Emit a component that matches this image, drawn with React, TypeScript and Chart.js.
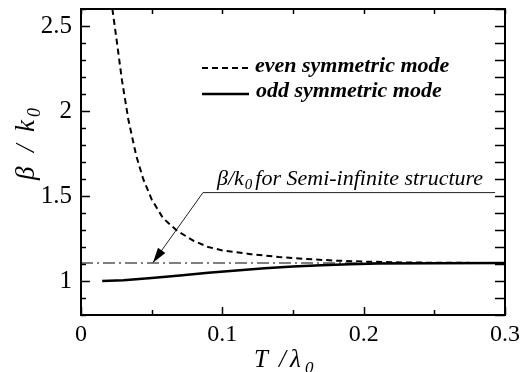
import { useEffect, useRef } from 'react';
import { Chart, registerables } from 'chart.js';

Chart.register(...registerables);

// ---- data ----
const evenModeT = [0.0222, 0.025, 0.029, 0.0335, 0.039, 0.044, 0.05, 0.058, 0.068, 0.08, 0.09, 0.1, 0.12, 0.14, 0.16, 0.18, 0.2, 0.23, 0.26, 0.3];
const evenModeBeta = [2.6, 2.43, 2.18, 1.95, 1.74, 1.6, 1.48, 1.37, 1.295, 1.235, 1.2, 1.18, 1.158, 1.141, 1.129, 1.12, 1.114, 1.109, 1.107, 1.106];
const oddModeT = [0.015, 0.03, 0.05, 0.07, 0.09, 0.11, 0.13, 0.15, 0.17, 0.19, 0.21, 0.25, 0.3];
const oddModeBeta = [1.0, 1.005, 1.018, 1.033, 1.048, 1.062, 1.075, 1.085, 1.093, 1.099, 1.103, 1.105, 1.106];
const semiInfiniteBeta = 1.106;
const xRange = [0, 0.3];
const yRange = [0.8, 2.6];
const xTickLabels = ['0', '0.1', '0.2', '0.3'];
const yTickLabels = ['1', '1.5', '2', '2.5'];
const seriesLabels = ['even symmetric mode', 'odd symmetric mode'];
const annotationLabel = ['β/k', '0', 'for Semi-infinite structure'];
const xTitleParts = ['T', '/', 'λ', '0'];
const yTitleParts = ['β', '/', 'k', '0'];
// annotation pointer (data coordinates): end of leader, elbow, arrow tip
const pointerT = [0.293, 0.0863, 0.0509];
const pointerBeta = [1.52, 1.52, 1.108];

const SERIF = '"Liberation Serif", "Times New Roman", serif';

const isLabeled = (labels: string[], v: number) =>
  labels.find((l) => Math.abs(parseFloat(l) - v) < 1e-6);

function drawSubText(ctx: CanvasRenderingContext2D, x: number, y: number, main: string, sub: string, size: number, style: string) {
  ctx.font = `${style} ${size}px ${SERIF}`;
  ctx.fillText(main, x, y);
  const w = ctx.measureText(main).width;
  const subSize = Math.round(size * 0.68);
  ctx.font = `${style} ${subSize}px ${SERIF}`;
  ctx.fillText(sub, x + w + 1, y + size * 0.2);
  return w + 1 + ctx.measureText(sub).width;
}

// draw a title whose parts sit at given offsets along the baseline
function drawTitle(ctx: CanvasRenderingContext2D, parts: string[], offsets: number[], size: number) {
  ctx.font = `italic ${size}px ${SERIF}`;
  ctx.fillText(parts[0], offsets[0], 0);
  ctx.fillText(parts[1], offsets[1], 0);
  ctx.fillText(parts[2], offsets[2], 0);
  ctx.font = `italic ${Math.round(size * 0.68)}px ${SERIF}`;
  ctx.fillText(parts[3], offsets[3], size * 0.22);
}

const decorPlugin = {
  id: 'decor',
  afterDatasetsDraw(chart: any) {
    const ctx: CanvasRenderingContext2D = chart.ctx;
    const meta = chart.getDatasetMeta(3);
    const pts = meta.data;
    const p1 = pts[pts.length - 2];
    const p2 = pts[pts.length - 1];
    const ang = Math.atan2(p2.y - p1.y, p2.x - p1.x);
    ctx.save();
    ctx.translate(p2.x, p2.y);
    ctx.rotate(ang);
    ctx.beginPath();
    ctx.moveTo(0, 0);
    ctx.lineTo(-15, -4.5);
    ctx.lineTo(-15, 4.5);
    ctx.closePath();
    ctx.fillStyle = '#000';
    ctx.fill();
    ctx.restore();
  },
  afterDraw(chart: any) {
    const ctx: CanvasRenderingContext2D = chart.ctx;
    const a = chart.chartArea;
    const xs = chart.scales.x;
    const ys = chart.scales.y;
    ctx.save();
    // frame
    ctx.strokeStyle = '#000';
    ctx.lineWidth = 2;
    ctx.setLineDash([]);
    ctx.strokeRect(a.left, a.top, a.right - a.left, a.bottom - a.top);
    // ticks
    ctx.lineWidth = 1.5;
    ctx.beginPath();
    ys.ticks.forEach((t: any) => {
      const py = Math.round(ys.getPixelForValue(t.value)) + 0.5;
      const major = isLabeled(yTickLabels, t.value) !== undefined;
      ctx.moveTo(a.left, py);
      ctx.lineTo(a.left + (major ? 9 : 5), py);
      ctx.moveTo(a.right, py);
      ctx.lineTo(a.right - 10, py);
    });
    xs.ticks.forEach((t: any) => {
      const px = Math.round(xs.getPixelForValue(t.value)) + 0.5;
      const major = isLabeled(xTickLabels, t.value) !== undefined;
      ctx.moveTo(px, a.bottom);
      ctx.lineTo(px, a.bottom - (major ? 8 : 5));
      ctx.moveTo(px, a.top);
      ctx.lineTo(px, a.top + 5);
    });
    ctx.stroke();

    // legend
    const lx = a.left + 121;
    const ly1 = a.top + 59;
    const ly2 = a.top + 85;
    ctx.beginPath();
    ctx.lineWidth = 2;
    ctx.setLineDash([6, 4]);
    ctx.moveTo(lx, ly1);
    ctx.lineTo(lx + 47, ly1);
    ctx.stroke();
    ctx.beginPath();
    ctx.lineWidth = 2.5;
    ctx.setLineDash([]);
    ctx.moveTo(lx, ly2);
    ctx.lineTo(lx + 47, ly2);
    ctx.stroke();
    ctx.fillStyle = '#000';
    ctx.textBaseline = 'alphabetic';
    ctx.textAlign = 'left';
    ctx.font = `italic bold 22px ${SERIF}`;
    ctx.fillText(seriesLabels[0], lx + 53, ly1 + 3.5);
    ctx.fillText(seriesLabels[1], lx + 54, ly2 + 3);

    // annotation text
    const ax = a.left + 136;
    const ay = a.top + 176;
    const w = drawSubText(ctx, ax, ay, annotationLabel[0], annotationLabel[1], 22, 'italic');
    ctx.font = `italic 22px ${SERIF}`;
    ctx.fillText(annotationLabel[2], ax + w + 3, ay);

    // x title
    ctx.save();
    ctx.translate(a.left + 173, a.bottom + 52);
    drawTitle(ctx, xTitleParts, [0, 25, 36, 51], 25);
    ctx.restore();

    // y title
    ctx.save();
    ctx.translate(a.left - 47, a.top + 171);
    ctx.rotate(-Math.PI / 2);
    drawTitle(ctx, yTitleParts, [0, 28, 48, 63], 27);
    ctx.restore();

    ctx.restore();
  },
};

export default function App() {
  const ref = useRef<HTMLCanvasElement>(null);
  useEffect(() => {
    if (!ref.current) return;
    const toXY = (xs: number[], ys: number[]) => xs.map((x, i) => ({ x, y: ys[i] }));
    const chart = new Chart(ref.current, {
      type: 'scatter',
      data: {
        datasets: [
          {
            label: seriesLabels[0],
            data: toXY(evenModeT, evenModeBeta),
            showLine: true,
            borderColor: '#000',
            borderWidth: 2,
            borderDash: [6, 4],
            pointRadius: 0,
            tension: 0,
          },
          {
            label: seriesLabels[1],
            data: toXY(oddModeT, oddModeBeta),
            showLine: true,
            borderColor: '#000',
            borderWidth: 2.5,
            pointRadius: 0,
            tension: 0,
          },
          {
            label: 'semi-infinite',
            data: toXY(xRange, [semiInfiniteBeta, semiInfiniteBeta]),
            showLine: true,
            borderColor: '#555',
            borderWidth: 1.5,
            borderDash: [12, 4, 2, 4],
            pointRadius: 0,
          },
          {
            label: 'pointer',
            data: toXY(pointerT, pointerBeta),
            showLine: true,
            borderColor: '#222',
            borderWidth: 1,
            pointRadius: 0,
          },
        ],
      },
      options: {
        animation: false,
        responsive: false,
        events: [],
        layout: { padding: { left: 0, top: 9, right: 19, bottom: 0 } },
        plugins: { legend: { display: false }, tooltip: { enabled: false } },
        scales: {
          x: {
            type: 'linear',
            min: xRange[0],
            max: xRange[1],
            grid: { display: false, tickLength: 0 },
            border: { display: false },
            afterFit: (s: any) => {
              s.height = 57;
              s.paddingLeft = 0;
              s.paddingRight = 0;
            },
            ticks: {
              stepSize: 0.05,
              autoSkip: false,
              maxRotation: 0,
              padding: 5,
              color: '#000',
              font: { family: SERIF, size: 24 },
              callback: (v: any) => isLabeled(xTickLabels, Number(v)) ?? '',
            },
          },
          y: {
            type: 'linear',
            min: yRange[0],
            max: yRange[1],
            grid: { display: false, tickLength: 0 },
            border: { display: false },
            afterFit: (s: any) => {
              s.width = 81;
              s.paddingTop = 0;
              s.paddingBottom = 0;
            },
            ticks: {
              stepSize: 0.1,
              autoSkip: false,
              padding: 9,
              color: '#000',
              font: { family: SERIF, size: 25 },
              callback: (v: any) => isLabeled(yTickLabels, Number(v)) ?? '',
            },
          },
        },
      },
      plugins: [decorPlugin],
    } as any);
    return () => chart.destroy();
  }, []);
  return (
    <div style={{ position: 'fixed', left: 0, top: 0, width: 524, height: 372, background: '#fff' }}>
      <canvas ref={ref} width={524} height={372} style={{ display: 'block' }} />
    </div>
  );
}
